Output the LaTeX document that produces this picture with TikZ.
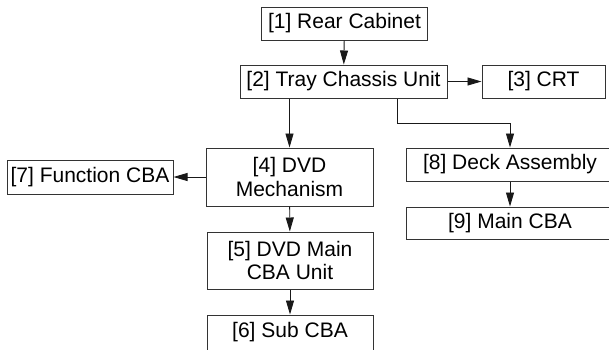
\documentclass[tikz,border=0pt]{standalone}
\usepackage{fontspec}
\setmainfont{Liberation Sans}
\usetikzlibrary{arrows.meta}
\begin{document}
\begin{tikzpicture}[x=1pt,y=-1pt,
  box/.style={draw=black!80, line width=1pt, inner sep=0pt, align=center,
    font=\fontsize{21}{23.5}\selectfont},
  arr/.style={draw=black!90, line width=0.9pt, -{Triangle[length=14pt,width=8pt]}}]
\useasboundingbox (0,0) rectangle (609,349);
\clip (0,0) rectangle (609,349);
\node[box, minimum width=166pt, minimum height=33pt] (n1) at (344.5,23.5) {[1] Rear Cabinet};
\node[box, minimum width=207pt, minimum height=33pt] (n2) at (343.5,81.5) {[2] Tray Chassis Unit};
\node[box, minimum width=123pt, minimum height=33pt] (n3) at (543.5,81.5) {[3] CRT};
\node[box, minimum width=167pt, minimum height=58pt] (n4) at (289.5,177) {[4] DVD\\Mechanism};
\node[box, minimum width=166pt, minimum height=34pt] (n7) at (90,177) {[7] Function CBA};
\node[box, minimum width=208pt, minimum height=33pt] (n8) at (510,164.5) {[8] Deck Assembly};
\node[box, minimum width=208pt, minimum height=32pt] (n9) at (510,223) {[9] Main CBA};
\node[box, minimum width=166pt, minimum height=57pt] (n5) at (290,260.5) {[5] DVD Main\\CBA Unit};
\node[box, minimum width=166pt, minimum height=35pt] (n6) at (290,332.5) {[6] Sub CBA};
\coordinate (j) at (397,123);
\draw[arr] (n1) -- (n2);
\draw[arr] (n2) -- (n3);
\draw[arr] (n2.south -| n4.north) -- (n4.north);
\draw[arr] (n2.south -| j) -- (j) -| (n8.north);
\draw[arr] (n4) -- (n7);
\draw[arr] (n4) -- (n5);
\draw[arr] (n5) -- (n6);
\draw[arr] (n8) -- (n9);
\end{tikzpicture}
\end{document}
